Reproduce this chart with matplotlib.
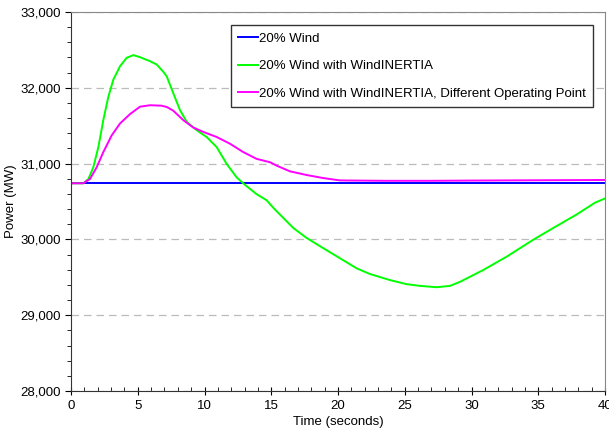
import matplotlib
matplotlib.use("Agg")
import matplotlib.pyplot as plt
from matplotlib.ticker import MultipleLocator, FuncFormatter

plt.rcParams['font.family'] = ['Liberation Sans', 'DejaVu Sans']

# Base case: flat line
base_t = [0, 40]
base_p = [30740, 30740]

# 20% wind with WindINERTIA
green_t = [0, 0.92, 1.30, 1.67, 2.05, 2.42, 2.80, 3.17, 3.67, 4.17, 4.67, 5.17,
           5.92, 6.42, 6.92, 7.17, 7.66, 8.16, 8.67, 9.42, 10.16, 10.91, 11.66,
           12.41, 13.03, 13.91, 14.66, 15.15, 15.9, 16.65, 17.66, 18.9, 20.15,
           21.4, 22.4, 23.9, 25.15, 26.14, 27.39, 28.39, 29.14, 30.88, 32.64,
           34.63, 36.13, 37.88, 39.25, 40]
green_p = [30740, 30740, 30796, 30951, 31218, 31573, 31884, 32107, 32284, 32396,
           32431, 32404, 32351, 32307, 32210, 32151, 31929, 31707, 31551, 31440,
           31351, 31218, 30996, 30818, 30720, 30596, 30516, 30418, 30284, 30151,
           30018, 29884, 29751, 29618, 29543, 29463, 29409, 29387, 29369, 29387,
           29440, 29596, 29773, 29996, 30151, 30329, 30484, 30540]

# 20% wind with WindINERTIA, different operating point
mag_t = [0, 0.92, 1.42, 1.92, 2.42, 3.05, 3.67, 4.42, 5.17, 5.92, 6.79, 7.2,
         7.66, 8.41, 9.16, 9.91, 10.91, 11.91, 12.91, 13.91, 14.91, 15.41, 16.4,
         17.66, 18.9, 20.15, 23.4, 26.9, 30, 35, 40]
mag_p = [30740, 30740, 30796, 30951, 31151, 31373, 31529, 31653, 31751, 31770,
         31764, 31745, 31698, 31573, 31476, 31418, 31351, 31262, 31151, 31062,
         31018, 30973, 30898, 30849, 30809, 30778, 30773, 30773, 30776, 30780,
         30784]

fig = plt.figure(figsize=(6.09, 4.29), dpi=100)
ax = fig.add_axes([71 / 609, 38 / 429, 534 / 609, 379 / 429])

ax.plot(base_t, base_p, color='#0000FF', lw=1.4, label='20% Wind')
ax.plot(green_t, green_p, color='#00FF00', lw=1.4, label='20% Wind with WindINERTIA')
ax.plot(mag_t, mag_p, color='#FF00FF', lw=1.4,
        label='20% Wind with WindINERTIA, Different Operating Point')

ax.set_xlim(0, 40)
ax.set_ylim(28000, 33000)
ax.xaxis.set_major_locator(MultipleLocator(5))
ax.xaxis.set_minor_locator(MultipleLocator(1))
ax.yaxis.set_major_locator(MultipleLocator(1000))
ax.yaxis.set_minor_locator(MultipleLocator(200))
ax.yaxis.set_major_formatter(FuncFormatter(lambda v, p: f'{int(v):,}'))

ax.tick_params(axis='x', which='major', direction='inout', length=6, labelsize=9.5)
ax.tick_params(axis='x', which='minor', direction='in', length=3)
ax.tick_params(axis='y', which='major', direction='out', length=4, labelsize=9.5)
ax.tick_params(axis='y', which='minor', direction='out', length=3)

ax.grid(axis='y', which='major', color='#BBBBBB', linestyle=(0, (6, 4)), lw=0.9)
ax.set_axisbelow(True)
for s in ['top', 'right']:
    ax.spines[s].set_color('#888888')
for s in ['left', 'bottom']:
    ax.spines[s].set_color('#333333')

ax.set_xlabel('Time (seconds)', fontsize=9.5, labelpad=3)
ax.set_ylabel('Power (MW)', fontsize=9.5, labelpad=2)

leg = ax.legend(loc='upper right', bbox_to_anchor=(0.978, 0.965), fontsize=9.5,
                fancybox=False, framealpha=1, edgecolor='#333333',
                handlelength=1.5, handletextpad=0.1, labelspacing=1.15,
                borderpad=0.55, borderaxespad=0)
leg.get_frame().set_linewidth(1.0)

fig.savefig('out.png', dpi=100)
